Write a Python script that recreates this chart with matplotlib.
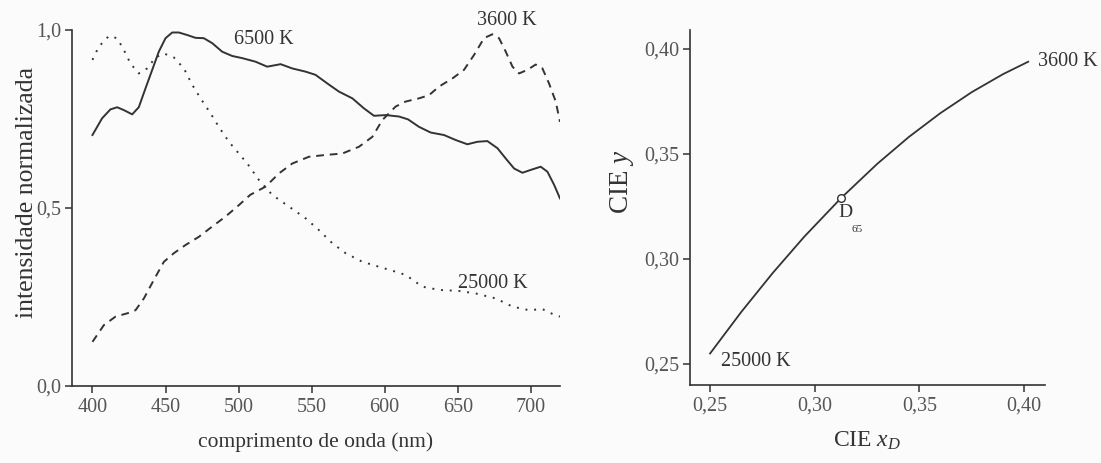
import matplotlib
matplotlib.use("Agg")
import matplotlib.pyplot as plt

plt.rcParams["font.family"] = ["Liberation Serif", "DejaVu Serif"]
plt.rcParams["mathtext.fontset"] = "custom"
plt.rcParams["mathtext.rm"] = "Liberation Serif"
plt.rcParams["mathtext.it"] = "Liberation Serif:italic"

# spectral power distributions (normalised), wavelength in nm
wl_6500 = [400, 406.6, 412.3, 416.9, 421.5, 427.2, 431.7, 436.3, 440.9, 445.4, 450,
           454.6, 459.1, 464.8, 470.5, 476.2, 482, 488.8, 495.7, 502.5, 511.6, 519.6,
           528.8, 536.8, 545.9, 552.7, 560.7, 568.7, 577.9, 585.8, 592.7, 600.7, 609.8,
           616, 623.5, 631.5, 640.6, 648.6, 656.6, 663.5, 670.3, 677.2, 682.9, 688.6,
           694.3, 700, 706.8, 711.4, 716, 720]
int_6500 = [0.705, 0.752, 0.777, 0.783, 0.775, 0.763, 0.783, 0.836, 0.888, 0.939, 0.977,
            0.993, 0.993, 0.986, 0.978, 0.977, 0.963, 0.939, 0.927, 0.921, 0.911, 0.897,
            0.904, 0.892, 0.883, 0.874, 0.85, 0.827, 0.808, 0.78, 0.759, 0.761, 0.757,
            0.749, 0.728, 0.712, 0.705, 0.691, 0.679, 0.686, 0.688, 0.668, 0.639, 0.611,
            0.599, 0.607, 0.616, 0.602, 0.565, 0.527]

wl_3600 = [400, 407.8, 415.8, 423.7, 429.5, 435.2, 442, 448.9, 455.7, 463.7, 472.8,
           482, 491.1, 500.2, 508, 518.5, 527.6, 536.8, 548.2, 559.6, 571, 582.4, 591.6,
           598.4, 607.5, 614.4, 623.5, 630.4, 637.2, 646.4, 654.3, 661.2, 668, 673.7,
           678.3, 682.9, 687.5, 692, 697.7, 703.4, 708, 712.5, 717.1, 720]
int_3600 = [0.124, 0.171, 0.195, 0.204, 0.213, 0.246, 0.298, 0.349, 0.373, 0.396, 0.419,
            0.448, 0.476, 0.508, 0.537, 0.56, 0.597, 0.625, 0.644, 0.649, 0.653, 0.672,
            0.7, 0.747, 0.785, 0.799, 0.808, 0.817, 0.841, 0.864, 0.888, 0.93, 0.977,
            0.988, 0.977, 0.939, 0.897, 0.878, 0.888, 0.903, 0.892, 0.85, 0.799, 0.742]

wl_25000 = [400, 404.3, 411.2, 416.9, 421.5, 426, 431.7, 437.4, 443.2, 448.9, 455.7,
            462.6, 468.3, 474, 480.8, 486.5, 493.4, 500.2, 506, 513.9, 523, 534.5, 545.9,
            555, 564.2, 573.3, 584.7, 596.1, 607.5, 614.4, 625.8, 637.2, 650.9, 662.3,
            676, 687.5, 698.8, 708, 717.1, 720]
int_25000 = [0.916, 0.953, 0.983, 0.977, 0.944, 0.906, 0.878, 0.892, 0.923, 0.934, 0.923,
             0.892, 0.846, 0.808, 0.766, 0.728, 0.686, 0.653, 0.625, 0.579, 0.537, 0.504,
             0.471, 0.438, 0.401, 0.373, 0.349, 0.335, 0.321, 0.312, 0.279, 0.27, 0.267,
             0.26, 0.246, 0.223, 0.213, 0.216, 0.198, 0.195]

# daylight locus in the CIE 1931 diagram, 25000 K -> 3600 K
locus_x = [0.250, 0.265, 0.280, 0.295, 0.3127, 0.330, 0.345, 0.360, 0.375, 0.390, 0.402]
locus_y = [0.255, 0.2749, 0.2934, 0.3106, 0.3291, 0.3454, 0.3581, 0.3694, 0.3794, 0.3880, 0.3939]
d65 = (0.3127, 0.3291)

wl_ticks = [400, 450, 500, 550, 600, 650, 700]
int_ticks = [0.0, 0.5, 1.0]
int_labels = ["0,0", "0,5", "1,0"]
cie_ticks = [0.25, 0.30, 0.35, 0.40]
cie_labels = ["0,25", "0,30", "0,35", "0,40"]

ink = "#333333"
tick_col = "#555555"
bg = "#fbfbfb"
fs_tick = 14.5
fs_note = 14.5

fig = plt.figure(figsize=(11.01, 4.63), dpi=100, facecolor=bg)
ax1 = fig.add_axes([0.0654, 0.1663, 0.4432, 0.7689])
ax2 = fig.add_axes([0.6267, 0.1685, 0.3224, 0.7667])

for ax in (ax1, ax2):
    ax.set_facecolor(bg)
    for s in ("top", "right"):
        ax.spines[s].set_visible(False)
    for s in ("left", "bottom"):
        ax.spines[s].set_color(ink)
        ax.spines[s].set_linewidth(1.2)
    ax.tick_params(direction="out", length=5, width=1.1, color=ink,
                   labelcolor=tick_col, labelsize=fs_tick)
    ax.tick_params(axis="x", pad=3.5)
    ax.tick_params(axis="y", pad=2.5)

ax1.plot(wl_6500, int_6500, color=ink, lw=1.4, ls="-")
ax1.plot(wl_3600, int_3600, color=ink, lw=1.4, ls=(0, (4, 3)))
ax1.plot(wl_25000, int_25000, color=ink, lw=1.4, ls=(0, (1, 3.5)))
ax1.set_xlim(386, 720)
ax1.set_ylim(0, 1.0)
ax1.set_xticks(wl_ticks)
ax1.set_yticks(int_ticks)
ax1.set_yticklabels(int_labels)
ax1.set_xlabel("comprimento de onda (nm)", fontsize=15.5, color=ink, labelpad=11)
ax1.set_ylabel("intensidade normalizada", fontsize=18.5, color=ink)
ax1.yaxis.set_label_coords(-0.069, 0.545)

ax1.text(497, 0.972, "6500 K", fontsize=fs_note, color=ink, va="center")
ax1.text(663.5, 1.028, "3600 K", fontsize=fs_note, color=ink, va="center", clip_on=False)
ax1.text(650.5, 0.289, "25000 K", fontsize=fs_note, color=ink, va="center")

ax2.plot(locus_x, locus_y, color=ink, lw=1.3)
ax2.plot(*d65, marker="o", ms=5.5, mfc="white", mec=ink, mew=1.0)
ax2.set_xlim(0.2404, 0.41)
ax2.set_ylim(0.24, 0.409)
ax2.set_xticks(cie_ticks)
ax2.set_xticklabels(cie_labels)
ax2.set_yticks(cie_ticks)
ax2.set_yticklabels(cie_labels)
ax2.set_xlabel(r"CIE $x_D$", fontsize=17, color=ink, labelpad=10)
ax2.set_ylabel(r"CIE $y$", fontsize=19.5, color=ink)
ax2.yaxis.set_label_coords(-0.152, 0.572)

ax2.text(0.4065, 0.394, "3600 K", fontsize=fs_note, color=ink, va="center", clip_on=False)
ax2.text(0.255, 0.251, "25000 K", fontsize=fs_note, color=ink, va="center")
ax2.text(0.3115, 0.3220, "D", fontsize=14, color=ink, va="center")
ax2.text(0.3175, 0.3140, "65", fontsize=8, color=ink, va="center")

fig.savefig("out.png", dpi=100, facecolor=bg)
